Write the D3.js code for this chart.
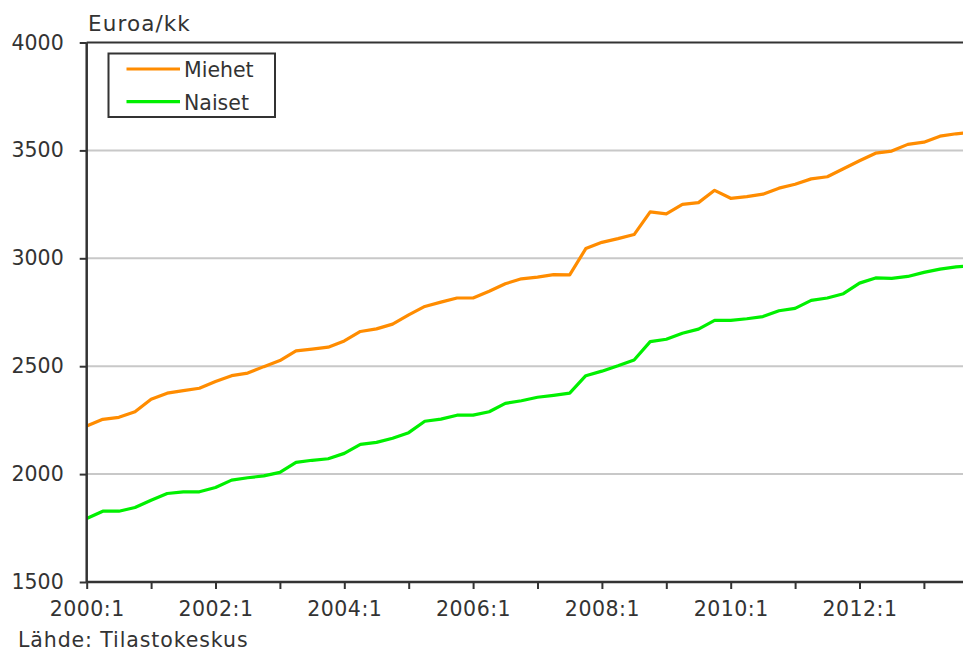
<!DOCTYPE html>
<html>
<head>
<meta charset="utf-8">
<script src="https://cdn.jsdelivr.net/npm/d3@7"></script>
<style>
  body { margin: 0; background: #fff; }
  svg { display: block; font-family: "DejaVu Sans", Verdana, sans-serif; }
  .axis path, .axis line { stroke: #333; }
  .axis text { fill: #333; font-size: 20.5px; font-family: "DejaVu Sans", Verdana, sans-serif; }
  .x-axis text { letter-spacing: 0.5px; }
</style>
</head>
<body>
<div id="chart"></div>
<script>
// quarterly labels 2000:1 ... 2013:4
const years = d3.range(2000, 2014)
const quarters = years.flatMap(y => [1, 2, 3, 4].map(q => y + ":" + q))

// Miehet (men), euros per month
const miehet = [
  2223, 2254, 2263, 2289, 2347, 2375, 2387, 2398,
  2429, 2456, 2468, 2498, 2526, 2571, 2579, 2588,
  2617, 2661, 2673, 2695, 2738, 2777, 2797, 2816,
  2816, 2847, 2882, 2905, 2913, 2924, 2923, 3045,
  3074, 3091, 3110, 3215, 3206, 3250, 3258, 3315,
  3278, 3286, 3297, 3325, 3343, 3368, 3378, 3415,
  3452, 3487, 3497, 3528, 3538, 3566, 3577, 3583
]

// Naiset (women)
const naiset = [
  1794, 1828, 1828, 1845, 1879, 1910, 1918, 1918,
  1938, 1972, 1983, 1992, 2008, 2054, 2064, 2071,
  2096, 2138, 2147, 2166, 2192, 2245, 2255, 2273,
  2273, 2289, 2328, 2340, 2356, 2365, 2375, 2456,
  2477, 2502, 2529, 2614, 2625, 2653, 2672, 2712,
  2712, 2720, 2730, 2757, 2768, 2805, 2816, 2836,
  2885, 2909, 2907, 2916, 2935, 2950, 2960, 2965
]

const yTicks = [1500, 2000, 2500, 3000, 3500, 4000]
const seriesNames = ["Miehet", "Naiset"]
const seriesColors = ["#ff8c00", "#00f000"]

;(function () {

  const margin = { top: 42.5, right: 0, bottom: 73, left: 86.7 }
  const fullWidth = 963, fullHeight = 655
  const height = fullHeight - margin.top - margin.bottom

  const svg = d3.select("#chart").append("svg")
      .attr("width", fullWidth)
      .attr("height", fullHeight)

  const g = svg.append("g")
      .attr("transform", "translate(" + margin.left + "," + margin.top + ")")

  // one quarter is about 16.1px, last quarter runs past the right edge
  const xPositionScale = d3.scalePoint()
    .domain(quarters)
    .range([0, 16.1 * (quarters.length - 1)])

  const yPositionScale = d3.scaleLinear()
    .domain([1500, 4000])
    .range([height, 0])

  // gridlines
  g.selectAll(".grid")
    .data(yTicks.filter(d => d > 1500 && d < 4000))
    .enter().append("line")
    .attr("class", "grid")
    .attr("x1", 0)
    .attr("x2", fullWidth)
    .attr("y1", d => yPositionScale(d))
    .attr("y2", d => yPositionScale(d))
    .attr("stroke", "#c8c8c8")
    .attr("stroke-width", 2)

  // top frame line
  g.append("line")
    .attr("x1", 0)
    .attr("x2", fullWidth)
    .attr("y1", yPositionScale(4000))
    .attr("y2", yPositionScale(4000))
    .attr("stroke", "#333")
    .attr("stroke-width", 2)

  const line = d3.line()
    .x((d, i) => xPositionScale(quarters[i]))
    .y(d => yPositionScale(d))

  g.selectAll(".series")
    .data([miehet, naiset])
    .enter().append("path")
    .attr("class", "series")
    .attr("d", d => line(d))
    .attr("fill", "none")
    .attr("stroke", (d, i) => seriesColors[i])
    .attr("stroke-width", 3.2)
    .attr("stroke-linejoin", "round")

  const yAxis = d3.axisLeft(yPositionScale)
    .tickValues(yTicks)
    .tickSize(7)
    .tickPadding(16)
    .tickFormat(d => d)
  g.append("g")
    .attr("class", "axis y-axis")
    .call(yAxis)
    .call(s => s.select(".domain").attr("stroke-width", 2.5).attr("d", "M0," + height + "V0"))
    .call(s => s.selectAll(".tick line").attr("stroke-width", 2))

  const xAxis = d3.axisBottom(xPositionScale)
    .tickValues(quarters.filter(q => q.endsWith(":1")))
    .tickSize(7)
    .tickPadding(10)
    .tickFormat(d => (+d.slice(0, 4)) % 2 === 0 ? d : "")
  g.append("g")
    .attr("class", "axis x-axis")
    .attr("transform", "translate(0," + height + ")")
    .call(xAxis)
    .call(s => s.select(".domain").attr("stroke-width", 2.5).attr("d", "M0,0H" + fullWidth))
    .call(s => s.selectAll(".tick line").attr("stroke-width", 2))
    .call(s => s.selectAll(".tick text").attr("dy", "0.85em"))

  // unit label
  svg.append("text")
    .attr("x", 88)
    .attr("y", 31)
    .attr("font-size", 21.5)
    .attr("letter-spacing", 1.1)
    .attr("fill", "#333")
    .text("Euroa/kk")

  // legend
  const legend = svg.append("g")
  legend.append("rect")
    .attr("x", 108.5)
    .attr("y", 53.5)
    .attr("width", 166.5)
    .attr("height", 63.5)
    .attr("fill", "#fff")
    .attr("stroke", "#333")
    .attr("stroke-width", 2)

  seriesNames.forEach((name, i) => {
    legend.append("line")
      .attr("x1", 126.5)
      .attr("x2", 180)
      .attr("y1", 69 + i * 32.7)
      .attr("y2", 69 + i * 32.7)
      .attr("stroke", seriesColors[i])
      .attr("stroke-width", 3.2)
    legend.append("text")
      .attr("x", 184)
      .attr("y", 77 + i * 32.7)
      .attr("font-size", 20.5)
      .attr("fill", "#333")
      .text(name)
  })

  // source
  svg.append("text")
    .attr("x", 18)
    .attr("y", 647)
    .attr("font-size", 20.5)
    .attr("letter-spacing", 0.9)
    .attr("fill", "#333")
    .text("Lähde: Tilastokeskus")

})();
</script>
</body>
</html>
